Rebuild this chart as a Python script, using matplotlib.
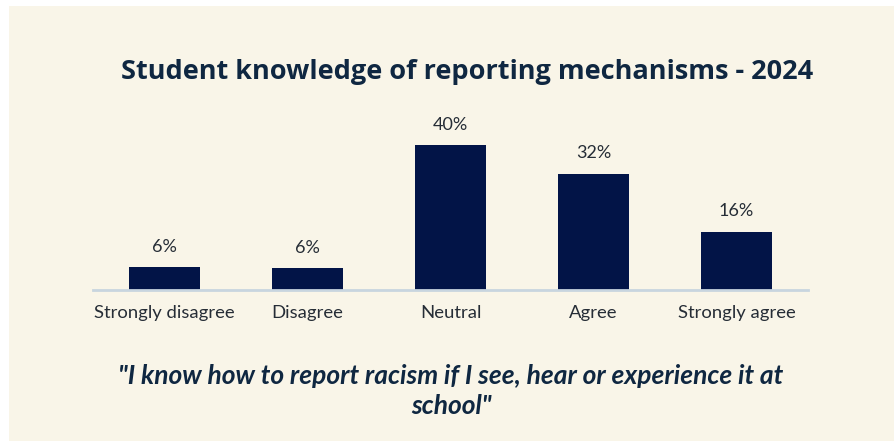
import matplotlib.pyplot as plt
from matplotlib.patches import Rectangle

categories = ['Strongly disagree', 'Disagree', 'Neutral', 'Agree', 'Strongly agree']
values = [6.3, 6.0, 40, 32, 16]
labels = ['6%', '6%', '40%', '32%', '16%']

bg = '#f9f5e8'
navy = '#021447'
text_dark = '#0f2741'
label_col = '#262d36'

fig = plt.figure(figsize=(8.94, 4.41), dpi=100)
fig.patch.set_facecolor('white')
fig.patches.append(Rectangle((9 / 894, 0), 1, 1 - 6 / 441, transform=fig.transFigure,
                             facecolor=bg, edgecolor='none', zorder=-5))

# axes placed so the baseline sits at y=290 px and spans x 93..808 px
ax = fig.add_axes([93 / 894, 1 - 290 / 441, 715 / 894, 159.5 / 441])
ax.set_zorder(2)
ax.set_facecolor('none')
x = range(len(categories))
ax.bar(x, values, width=0.5, color=navy, zorder=2)
ax.set_xlim(-0.5, 4.5)
ax.set_ylim(0, 44)

for i, (v, lab) in enumerate(zip(values, labels)):
    ax.annotate(lab, (i, v), xytext=(0, 9), textcoords='offset points',
                ha='center', va='bottom', fontsize=13, color=label_col, family='Lato')

for s in ['top', 'right', 'left']:
    ax.spines[s].set_visible(False)
ax.spines['bottom'].set_color('#c8d5df')
ax.spines['bottom'].set_linewidth(2)
ax.set_yticks([])
ax.set_xticks(list(x))
ax.set_xticklabels(categories, fontsize=13.3, color=label_col, family='Lato')
ax.tick_params(axis='x', length=0, pad=11)

fig.text(467 / 894, 1 - 72 / 441, 'Student knowledge of reporting mechanisms - 2024',
         ha='center', va='center', fontsize=19.5, fontweight='bold', color=text_dark,
         family='Open Sans', zorder=3)

fig.text(451 / 894, 1 - 391 / 441,
         '"I know how to report racism if I see, hear or experience it at\nschool"',
         ha='center', va='center', fontsize=19, fontweight='bold', fontstyle='italic',
         color=text_dark, family='Lato', linespacing=1.35, zorder=3)

fig.savefig('out.png', dpi=100, facecolor=fig.get_facecolor())
